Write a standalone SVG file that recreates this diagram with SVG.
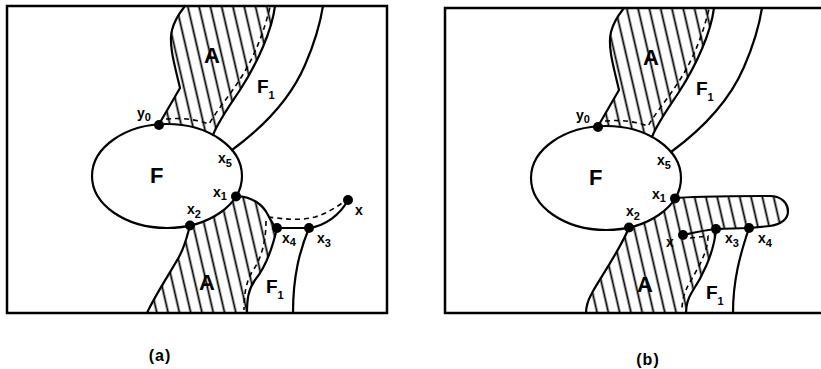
<svg xmlns="http://www.w3.org/2000/svg" xmlns:xlink="http://www.w3.org/1999/xlink" width="821" height="369" viewBox="0 0 821 369">
  <style>
    .ln { fill: none; stroke: #000; stroke-width: 2.2; stroke-linejoin: round; stroke-linecap: round; }
    .fr { fill: none; stroke: #000; stroke-width: 2.5; }
    .ds { fill: none; stroke: #000; stroke-width: 1.6; stroke-dasharray: 5 4; }
    .ht { fill: url(#hatch); stroke: none; }
    .pt { fill: #000; }
    text { font-family: "Liberation Sans", Arial, sans-serif; fill: #000; font-weight: bold; }
    .big { font-size: 22px; }
    .mid { font-size: 19px; }
    .lab { font-size: 14px; }
    .cap { font-size: 16px; letter-spacing: 1px; }
    .sub { font-size: 11px; }
  </style>
  <defs>
    <pattern id="hatch" patternUnits="userSpaceOnUse" width="11" height="40" patternTransform="rotate(-13)">
      <line x1="5.5" y1="-2" x2="5.5" y2="42" stroke="#000" stroke-width="1.8"/>
    </pattern>
    <g id="common">
      <!-- upper A region -->
      <path class="ht" d="M159,124.3 L180,88 C176,70 168,45 172,30 C175,18 182,10 185,6 L275,6 C272,30 258,62 240,90 C228,108 218,122 213,135 A75,52 0 0 0 159,124.3 Z"/>
      <path class="ln" d="M159,124.3 L180,88 C176,70 168,45 172,30 C175,18 182,10 185,6"/>
      <path class="ln" d="M275,6 C272,30 258,62 240,90 C228,108 218,122 213,135"/>
      <path class="ln" d="M232,150 C262,128 290,100 305,65 C315,42 320,25 323,6"/>
      <path class="ds" d="M166,119 Q190,117 209,124 C216,112 226,100 234,88 C250,66 262,40 270,7"/>
      <ellipse class="ln" cx="167" cy="176" rx="75" ry="52" fill="#fff"/>
      <circle class="pt" cx="159" cy="125" r="5"/>
      <circle class="pt" cx="236" cy="196.4" r="5"/>
      <circle class="pt" cx="190" cy="225.5" r="5"/>
      <text class="big" x="150" y="183">F</text>
      <text class="big" x="204" y="63">A</text>
      <text class="mid" x="257" y="93">F<tspan class="sub" dy="6">1</tspan></text>
      <text class="lab" x="137" y="118">y<tspan class="sub" dy="3">0</tspan></text>
      <text class="lab" x="218" y="163">x<tspan class="sub" dy="4">5</tspan></text>
      <text class="lab" x="213" y="197">x<tspan class="sub" dy="3">1</tspan></text>
      <text class="lab" x="187" y="214">x<tspan class="sub" dy="4">2</tspan></text>
    </g>
  </defs>

  <g id="panel-a">
    <rect class="fr" x="7" y="6" width="380" height="307"/>
    <path class="ht" d="M190,225.5 A75,52 0 0 0 236,196.4 C252,196 263,205 268,215 C271,221 274,226 277,228 C272,250 265,268 255,280 C248,290 247,300 247,313 L147,313 C155,295 172,270 180,255 C186,243 188,232 190,225.5 Z"/>
    <use xlink:href="#common" href="#common"/>
    <g id="connectors-a">
      <path class="ln" d="M236,196.4 C252,196 263,205 268,215 C271,221 274,226 277,228"/>
      <path class="ln" d="M277,228 C272,250 265,268 255,280 C248,290 247,300 247,313"/>
      <path class="ln" d="M147,313 C155,295 172,270 180,255 C186,243 188,232 190,225.5"/>
      <path class="ln" d="M309,228 C300,250 293,275 293,313"/>
      <path class="ln" d="M277,228 L309,228 C325,226 340,215 348,200"/>
      <path class="ds" d="M268,217 C285,219 300,221 315,217 C328,213 338,206 345,201"/>
      <path class="ds" d="M266,221 C266,240 262,258 252,272 C246,282 244,295 244,310"/>
    </g>
    <circle class="pt" cx="277" cy="228" r="5"/>
    <circle class="pt" cx="309" cy="228" r="5"/>
    <circle class="pt" cx="348" cy="200" r="5"/>
    <text class="lab" x="282" y="243">x<tspan class="sub" dy="3">4</tspan></text>
    <text class="lab" x="317" y="243">x<tspan class="sub" dy="4">3</tspan></text>
    <text class="lab" x="355" y="215">x</text>
    <text class="big" x="199" y="290">A</text>
    <text class="mid" x="266" y="293">F<tspan class="sub" dy="6">1</tspan></text>
    <text class="cap" x="160" y="361" text-anchor="middle">(a)</text>
  </g>

  <g id="panel-b">
    <rect class="fr" x="445" y="8" width="400" height="305"/>
    <path class="ht" d="M629,227.5 A75,52 0 0 0 675,198.4 C690,196 740,196 770,196 C782,196 788,204 788,211 C788,219 782,224 770,226 L749,228 L716,229 C714,255 700,280 692,292 C687,300 686,306 686,313 L586,313 C586,307 588,300 592,293 C600,278 620,250 629,227.5 Z"/>
    <use xlink:href="#common" href="#common" transform="translate(439,2)"/>
    <g id="connectors-b">
      <path class="ln" d="M675,198.4 C690,196 740,196 770,196 C782,196 788,204 788,211 C788,219 782,224 770,226 L749,228 L716,229 C705,230 692,233 683,235"/>
      <path class="ln" d="M716,229 C714,255 700,280 692,292 C687,300 686,306 686,313"/>
      <path class="ln" d="M749,228 C740,255 733,280 733,313"/>
      <path class="ln" d="M629,227.5 C620,250 600,278 592,293 C588,300 586,307 586,313"/>
      <path class="ds" d="M690,238 L708,236 C708,252 698,268 690,282 C684,292 682,302 682,310"/>
    </g>
    <circle class="pt" cx="683" cy="235" r="5"/>
    <circle class="pt" cx="716" cy="229" r="5"/>
    <circle class="pt" cx="749" cy="228" r="5"/>
    <text class="lab" x="666" y="247">x</text>
    <text class="lab" x="725" y="243">x<tspan class="sub" dy="4">3</tspan></text>
    <text class="lab" x="758" y="243">x<tspan class="sub" dy="4">4</tspan></text>
    <text class="big" x="637" y="292">A</text>
    <text class="mid" x="706" y="299">F<tspan class="sub" dy="6">1</tspan></text>
    <text class="cap" x="648" y="365" text-anchor="middle">(b)</text>
  </g>
</svg>
